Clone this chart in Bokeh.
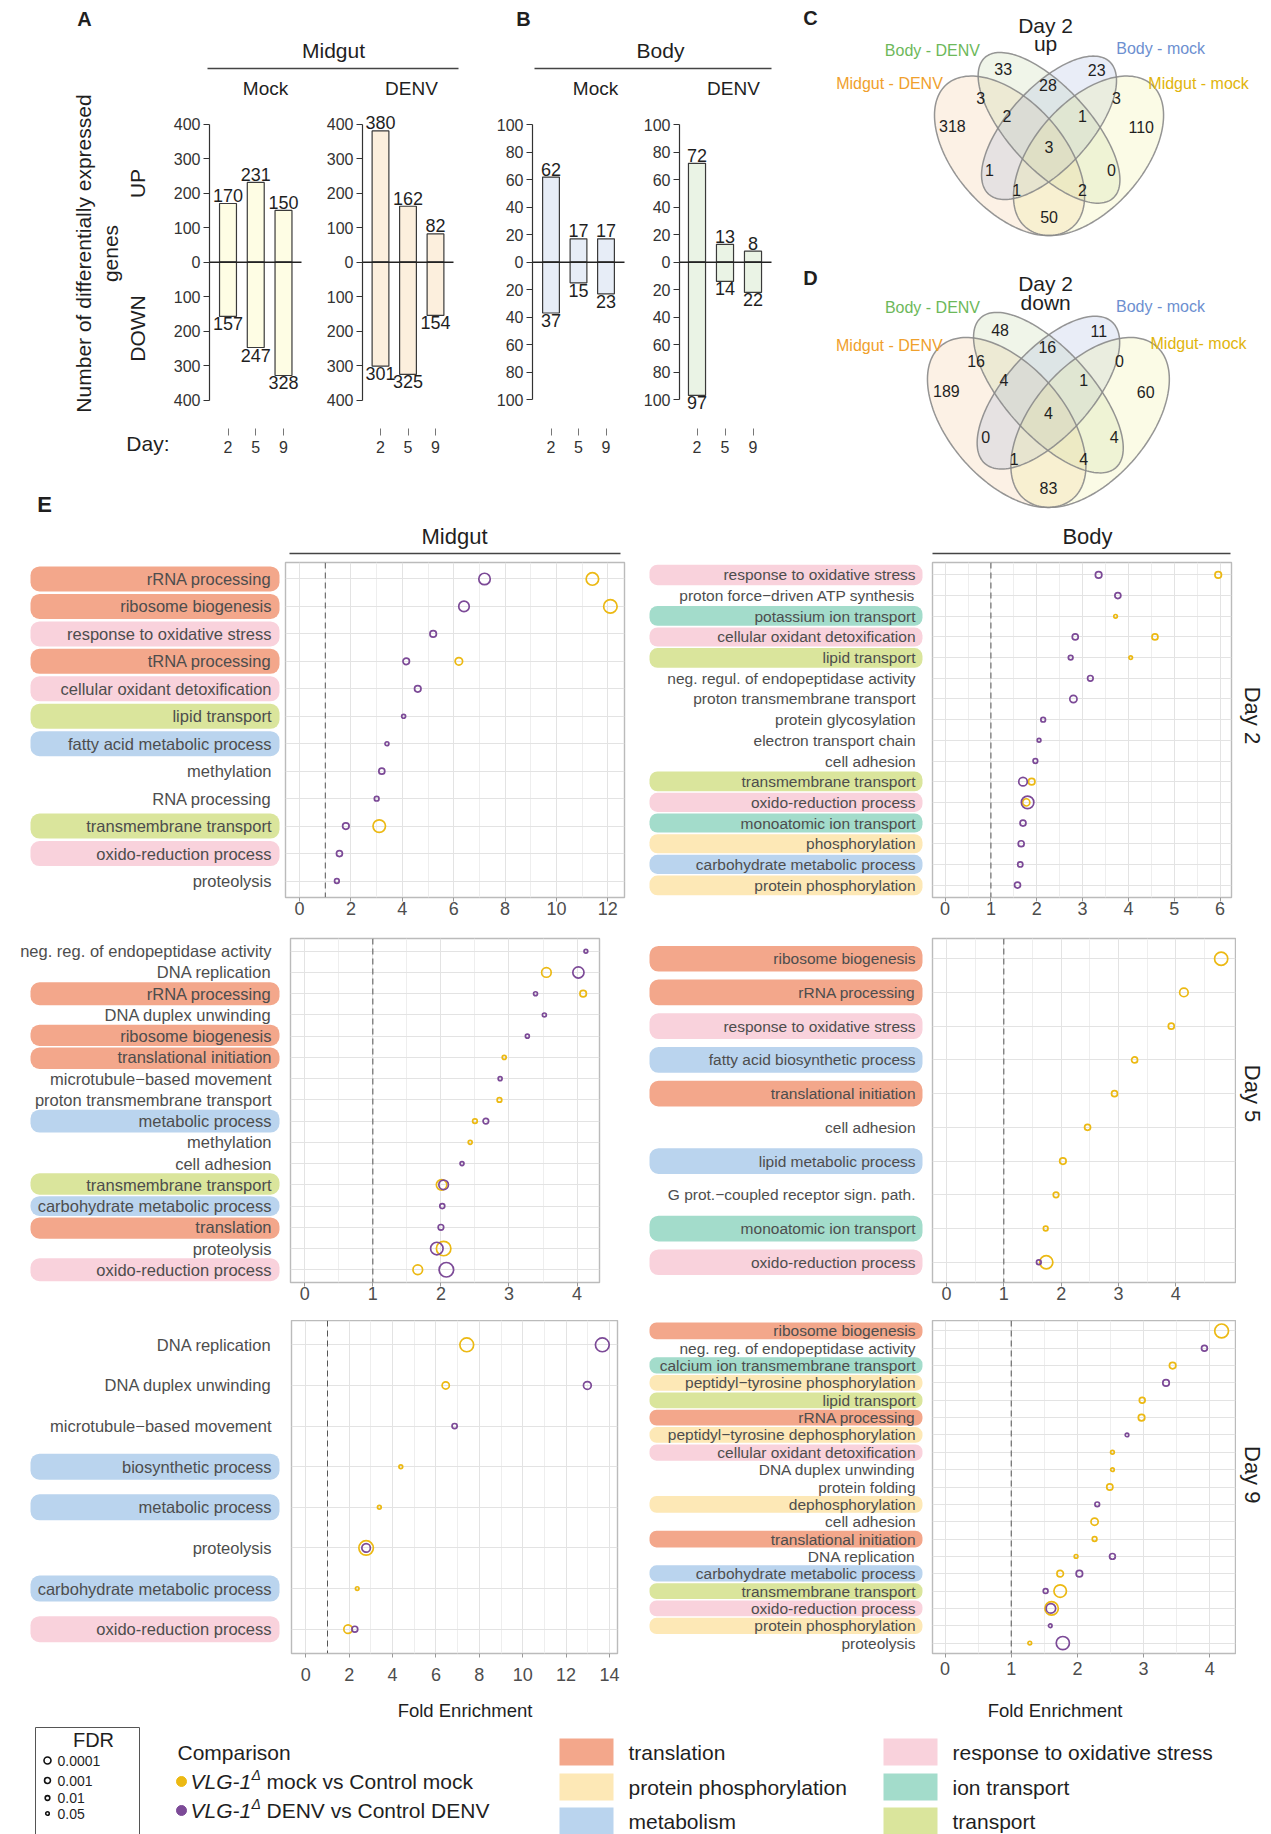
import math

from bokeh.core.properties import value
from bokeh.embed import file_html
from bokeh.layouts import column, row
from bokeh.models import CustomJSTickFormatter, FixedTicker, Grid, Range1d, Span
from bokeh.plotting import figure
from bokeh.resources import INLINE

# ---------------------------------------------------------------- data
# A / B : number of differentially expressed genes per day
DAY_LABELS = ["2", "5", "9"]
MIDGUT_MOCK_UP = [170, 231, 150]
MIDGUT_MOCK_DOWN = [157, 247, 328]
MIDGUT_DENV_UP = [380, 162, 82]
MIDGUT_DENV_DOWN = [301, 325, 154]
BODY_MOCK_UP = [62, 17, 17]
BODY_MOCK_DOWN = [37, 15, 23]
BODY_DENV_UP = [72, 13, 8]
BODY_DENV_DOWN = [97, 14, 22]
MIDGUT_TICKS = [-400, -300, -200, -100, 0, 100, 200, 300, 400]
BODY_TICKS = [-100, -80, -60, -40, -20, 0, 20, 40, 60, 80, 100]

# C / D : overlaps of day-2 gene sets (15 Venn regions, same order for both)
VENN_SETS_UP = ["Midgut - DENV", "Body - DENV", "Body - mock", "Midgut - mock"]
VENN_SETS_DOWN = ["Midgut - DENV", "Body - DENV", "Body - mock", "Midgut- mock"]
VENN_UP_COUNTS = [33, 28, 23, 3, 2, 1, 3, 318, 110, 3, 1, 0, 1, 2, 50]
VENN_DOWN_COUNTS = [48, 16, 11, 16, 4, 1, 0, 189, 60, 4, 0, 4, 1, 4, 83]

# E : GO term enrichment (None = term not enriched in that comparison)
TL, PP, MB = "translation", "protein phosphorylation", "metabolism"
OX, IT, TR = "response to oxidative stress", "ion transport", "transport"
GROUP_ORDER = [TL, PP, MB, OX, IT, TR]

MIDGUT_D2_TERMS = ["rRNA processing", "ribosome biogenesis", "response to oxidative stress",
                   "tRNA processing", "cellular oxidant detoxification", "lipid transport",
                   "fatty acid metabolic process", "methylation", "RNA processing",
                   "transmembrane transport", "oxido-reduction process", "proteolysis"]
MIDGUT_D2_GROUPS = [TL, TL, OX, TL, OX, TR, MB, None, None, TR, OX, None]
MIDGUT_D2_MOCK_FE = [11.4, 12.1, None, 6.2, None, None, None, None, None, 3.1, None, None]
MIDGUT_D2_MOCK_FDR = [4e-12, 7e-14, None, 3e-5, None, None, None, None, None, 4e-12, None, None]
MIDGUT_D2_DENV_FE = [7.2, 6.4, 5.2, 4.15, 4.6, 4.05, 3.4, 3.2, 3.0, 1.8, 1.55, 1.45]
MIDGUT_D2_DENV_FDR = [2e-10, 5e-9, 3e-4, 3e-4, 3e-4, 0.03, 0.03, 9e-4, 0.01, 3e-4, 9e-4, 0.01]

BODY_D2_TERMS = ["response to oxidative stress", "proton force\u2212driven ATP synthesis",
                 "potassium ion transport", "cellular oxidant detoxification", "lipid transport",
                 "neg. regul. of endopeptidase activity", "proton transmembrane transport",
                 "protein glycosylation", "electron transport chain", "cell adhesion",
                 "transmembrane transport", "oxido-reduction process", "monoatomic ion transport",
                 "phosphorylation", "carbohydrate metabolic process", "protein phosphorylation"]
BODY_D2_GROUPS = [OX, None, IT, OX, TR, None, None, None, None, None, TR, OX, IT, PP, MB, PP]
BODY_D2_MOCK_FE = [5.96, None, 3.72, 4.58, 4.05, None, None, None, None, None, 1.89, 1.77,
                   None, None, None, None]
BODY_D2_MOCK_FDR = [3e-4, None, 0.05, 9e-4, 0.05, None, None, None, None, None, 3e-4, 6e-5,
                    None, None, None, None]
BODY_D2_DENV_FE = [3.35, 3.77, None, 2.84, 2.74, 3.17, 2.80, 2.14, 2.05, 1.97, 1.70, 1.80,
                   1.70, 1.66, 1.64, 1.58]
BODY_D2_DENV_FDR = [3e-4, 9e-4, None, 9e-4, 0.01, 2e-3, 6e-5, 0.01, 0.04, 0.01, 2e-6, 4e-12,
                    9e-4, 9e-4, 4e-3, 9e-4]

MIDGUT_D5_TERMS = ["neg. reg. of endopeptidase activity", "DNA replication", "rRNA processing",
                   "DNA duplex unwinding", "ribosome biogenesis", "translational initiation",
                   "microtubule\u2212based movement", "proton transmembrane transport",
                   "metabolic process", "methylation", "cell adhesion", "transmembrane transport",
                   "carbohydrate metabolic process", "translation", "proteolysis",
                   "oxido-reduction process"]
MIDGUT_D5_GROUPS = [None, None, TL, None, TL, TL, None, None, MB, None, None, TR, MB, TL, None, OX]
MIDGUT_D5_MOCK_FE = [None, 3.55, 4.09, None, None, 2.93, None, 2.86, 2.50, 2.43, None, 2.01,
                     None, None, 2.04, 1.66]
MIDGUT_D5_MOCK_FDR = [None, 1e-7, 3e-4, None, None, 0.03, None, 0.01, 0.01, 0.03, None, 5e-9,
                      None, None, 1e-15, 1e-7]
MIDGUT_D5_DENV_FE = [4.13, 4.02, 3.39, 3.52, 3.27, None, 2.87, None, 2.66, None, 2.31, 2.04,
                     2.02, 2.00, 1.94, 2.08]
MIDGUT_D5_DENV_FDR = [0.04, 5e-10, 0.03, 0.03, 0.03, None, 0.03, None, 2e-3, None, 0.03, 1e-7,
                      6e-3, 2e-3, 4e-12, 1e-15]

BODY_D5_TERMS = ["ribosome biogenesis", "rRNA processing", "response to oxidative stress",
                 "fatty acid biosynthetic process", "translational initiation", "cell adhesion",
                 "lipid metabolic process", "G prot.\u2212coupled receptor sign. path.",
                 "monoatomic ion transport", "oxido-reduction process"]
BODY_D5_GROUPS = [TL, TL, OX, MB, TL, None, MB, None, IT, OX]
BODY_D5_MOCK_FE = [4.79, 4.14, 3.92, 3.28, 2.93, 2.46, 2.03, 1.91, 1.73, 1.74]
BODY_D5_MOCK_FDR = [2.5e-13, 2e-6, 9e-4, 9e-4, 9e-4, 9e-4, 3e-4, 2e-3, 0.01, 2.5e-13]
BODY_D5_DENV_FE = [None, None, None, None, None, None, None, None, None, 1.61]
BODY_D5_DENV_FDR = [None, None, None, None, None, None, None, None, None, 0.01]

MIDGUT_D9_TERMS = ["DNA replication", "DNA duplex unwinding", "microtubule\u2212based movement",
                   "biosynthetic process", "metabolic process", "proteolysis",
                   "carbohydrate metabolic process", "oxido-reduction process"]
MIDGUT_D9_GROUPS = [None, None, None, MB, MB, None, MB, OX]
MIDGUT_D9_MOCK_FE = [7.42, 6.45, None, 4.38, 3.39, 2.78, 2.37, 1.95]
MIDGUT_D9_MOCK_FDR = [2e-14, 6e-5, None, 0.04, 0.04, 1e-15, 0.05, 2e-6]
MIDGUT_D9_DENV_FE = [13.67, 12.98, 6.86, None, None, 2.78, None, 2.26]
MIDGUT_D9_DENV_FDR = [2e-14, 1.4e-5, 4e-3, None, None, 2e-6, None, 1.3e-3]

BODY_D9_TERMS = ["ribosome biogenesis", "neg. reg. of endopeptidase activity",
                 "calcium ion transmembrane transport", "peptidyl\u2212tyrosine phosphorylation",
                 "lipid transport", "rRNA processing", "peptidyl\u2212tyrosine dephosphorylation",
                 "cellular oxidant detoxification", "DNA duplex unwinding", "protein folding",
                 "dephosphorylation", "cell adhesion", "translational initiation",
                 "DNA replication", "carbohydrate metabolic process", "transmembrane transport",
                 "oxido-reduction process", "protein phosphorylation", "proteolysis"]
BODY_D9_GROUPS = [TL, None, IT, PP, TR, TL, PP, OX, None, None, PP, None, TL, None, MB, TR, OX,
                  PP, None]
BODY_D9_MOCK_FE = [4.18, None, 3.44, None, 2.98, 2.97, None, 2.53, 2.53, 2.49, None, 2.26, 2.26,
                   1.98, 1.74, 1.74, 1.61, None, 1.28]
BODY_D9_MOCK_FDR = [2e-14, None, 3e-4, None, 1.3e-3, 3e-4, None, 0.04, 0.05, 6e-4, None, 6e-5,
                    0.01, 0.04, 3e-4, 4e-12, 7e-14, None, 0.04]
BODY_D9_DENV_FE = [None, 3.92, None, 3.34, None, None, 2.75, None, None, None, 2.30, None, None,
                   2.53, 2.03, 1.52, 1.60, 1.59, 1.78]
BODY_D9_DENV_FDR = [None, 1.3e-3, None, 3e-4, None, None, 0.05, None, None, None, 0.01, None,
                    None, 1.3e-3, 3e-4, 8e-3, 1.3e-7, 0.05, 2.5e-13]

FDR_LEVELS = [0.0001, 0.001, 0.01, 0.05]
COMPARISONS = ["mock vs Control mock", "DENV vs Control DENV"]

# ---------------------------------------------------------------- styles
SANS = "Liberation Sans"
INK = "#1f1f1f"
AXIS_GREY = "#4d4d4d"
YELLOW = "#ECB913"
PURPLE = "#7C4A97"
GROUP_FILL = {TL: "#F3A78B", PP: "#FDE8B6", MB: "#BAD4EE", OX: "#F9D2DC", IT: "#A3DCCB",
              TR: "#DAE59C"}
VENN_FILL = ["#F3BF89", "#BBD39B", "#9BAFDB", "#EFEF8F"]
VENN_TEXT = ["#F0A02C", "#6DB85A", "#6D8FD0", "#E1B40C"]
# Venn outline geometry (centre x, centre y, semi-axes, rotation) and region label spots
VENN_SHAPES = [(0.35, 0.47, 0.35, 0.20, 135), (0.50, 0.57, 0.35, 0.15, 135),
               (0.50, 0.57, 0.33, 0.15, 45), (0.65, 0.47, 0.35, 0.20, 45)]
VENN_SPOTS = [(0.326, 0.78), (0.496, 0.723), (0.681, 0.778), (0.24, 0.675), (0.34, 0.614),
              (0.627, 0.614), (0.756, 0.676), (0.133, 0.576), (0.85, 0.572), (0.5, 0.502),
              (0.274, 0.42), (0.737, 0.42), (0.377, 0.346), (0.627, 0.346), (0.5, 0.251)]

# vertical bands of the page
TOP_H = 518                      # panels A-D
E_HEAD = 555                     # E column headings end here
ROW2_TOP, ROW2_H = E_HEAD, 379
ROW5_TOP, ROW5_H = ROW2_TOP + ROW2_H, 386
ROW9_TOP, ROW9_H = ROW5_TOP + ROW5_H, 380
FOLD_TOP = ROW9_TOP + ROW9_H     # x-axis titles of the bottom row
LEG_TOP = 1726
PAGE_H = 1834


def canvas(w, h, xr, yr, left=0, right=0, top=0, bottom=0, x_axis=None, y_axis=None):
    p = figure(width=w, height=h, x_range=xr, y_range=yr, output_backend="svg",
               toolbar_location=None, tools="", x_axis_location=x_axis,
               y_axis_location=y_axis, min_border=0, min_border_left=left,
               min_border_right=right, min_border_top=top, min_border_bottom=bottom,
               outline_line_color=None, background_fill_color="white",
               border_fill_color="white")
    p.grid.visible = False
    return p


def put_text(p, x, y, s, size, color=INK, align="center", baseline="middle", angle=0.0,
             style="normal"):
    p.text(x=[x], y=[y], text=[s], text_font=value(SANS), text_font_size=f"{size}px",
           text_color=color, text_align=align, text_baseline=baseline, angle=angle,
           text_font_style=style)


def fdr_size(fdr):
    return 4.0 * math.sqrt(-math.log10(fdr)) - 1.0


# ---------------------------------------------------------------- A / B bars
BAR_TOP, BAR_FRAME_BOTTOM, ZERO_PX = 75, 428, 261.7


def bar_tile(tile_x, frame_x, first_px, pitch, zero_end_px, px_per_gene, ticks, ups, downs,
             fill, heading, heading_px):
    x0, x1 = tile_x
    fx0, fx1 = frame_x

    def slot(px):
        return 1 + (px - first_px) / pitch

    p = canvas(x1 - x0, TOP_H - BAR_TOP, Range1d(slot(fx0), slot(fx1)),
               Range1d((ZERO_PX - BAR_FRAME_BOTTOM) / px_per_gene,
                       (ZERO_PX - BAR_TOP) / px_per_gene),
               left=fx0 - x0, right=x1 - fx1, top=0, bottom=TOP_H - BAR_FRAME_BOTTOM,
               x_axis="below", y_axis="left")
    pos = list(range(1, len(ups) + 1))
    down_vals = [-d for d in downs]
    p.vbar(x=pos, bottom=0, top=ups, width=0.61, fill_color=fill, line_color="#3a3a3a",
           line_width=1.2)
    p.vbar(x=pos, bottom=down_vals, top=0, width=0.61, fill_color=fill, line_color="#3a3a3a",
           line_width=1.2)
    p.segment(x0=[slot(fx0)], y0=[0], x1=[slot(zero_end_px)], y1=[0], line_color="#222222",
              line_width=1.4)
    p.text(x=pos, y=ups, text=[str(v) for v in ups], text_font=value(SANS),
           text_font_size="18px", text_color=INK, text_align="center",
           text_baseline="alphabetic", y_offset=-8)
    p.text(x=pos, y=down_vals, text=[str(v) for v in downs], text_font=value(SANS),
           text_font_size="18px", text_color=INK, text_align="center", text_baseline="top",
           y_offset=1)
    put_text(p, slot(heading_px), (ZERO_PX - 88) / px_per_gene, heading, 19)

    ya = p.yaxis[0]
    ya.ticker = FixedTicker(ticks=ticks)
    ya.bounds = (ticks[0], ticks[-1])
    ya.formatter = CustomJSTickFormatter(code="return String(Math.abs(tick));")
    ya.axis_line_color = "#333333"
    ya.axis_line_width = 1.2
    ya.major_tick_line_color = "#333333"
    ya.major_tick_out = 6
    ya.major_tick_in = 0
    ya.minor_tick_line_color = None
    ya.major_label_text_font = SANS
    ya.major_label_text_font_size = "16px"
    ya.major_label_text_color = "#333333"
    ya.major_label_standoff = 3

    xa = p.xaxis[0]
    xa.ticker = FixedTicker(ticks=pos)
    xa.formatter = CustomJSTickFormatter(args=dict(days=DAY_LABELS),
                                         code="return days[Math.round(tick) - 1];")
    xa.axis_line_color = None
    xa.major_tick_line_color = "#777777"
    xa.major_tick_out = 7
    xa.major_tick_in = 0
    xa.minor_tick_line_color = None
    xa.major_label_text_font = SANS
    xa.major_label_text_font_size = "16px"
    xa.major_label_text_color = "#333333"
    xa.major_label_standoff = 5
    return p


a_left = canvas(170, TOP_H, Range1d(0, 170), Range1d(TOP_H, 0))
put_text(a_left, 84, 18, "A", 20, style="bold")
put_text(a_left, 83, 253, "Number of differentially expressed", 21, angle=math.pi / 2)
put_text(a_left, 110, 253, "genes", 21, angle=math.pi / 2)
put_text(a_left, 137, 183, "UP", 21, angle=math.pi / 2)
put_text(a_left, 137, 328, "DOWN", 21, angle=math.pi / 2)
put_text(a_left, 169, 443, "Day:", 21, align="right")
put_text(a_left, 44, 504, "E", 22, style="bold")

header = canvas(620, BAR_TOP, Range1d(170, 790), Range1d(BAR_TOP, 0))
put_text(header, 333, 50, "Midgut", 21)
header.segment(x0=[207], y0=[68], x1=[458], y1=[68], line_color="#444444", line_width=1.4)
put_text(header, 523, 18, "B", 20, style="bold")
put_text(header, 660, 50, "Body", 21)
header.segment(x0=[534], y0=[68], x1=[771], y1=[68], line_color="#444444", line_width=1.4)

MIDGUT_K = 0.3454
BODY_K = 1.3735
bars = row(
    bar_tile((170, 318), (209, 312), 227.5, 27.75, 301, MIDGUT_K, MIDGUT_TICKS,
             MIDGUT_MOCK_UP, MIDGUT_MOCK_DOWN, "#FEFDE4", "Mock", 265),
    bar_tile((318, 490), (362, 485), 380, 27.5, 453, MIDGUT_K, MIDGUT_TICKS,
             MIDGUT_DENV_UP, MIDGUT_DENV_DOWN, "#FCEFDD", "DENV", 411),
    bar_tile((490, 638), (532, 633), 550.5, 27.5, 624, BODY_K, BODY_TICKS,
             BODY_MOCK_UP, BODY_MOCK_DOWN, "#E7EDF7", "Mock", 595),
    bar_tile((638, 790), (679, 785), 696.5, 28, 771, BODY_K, BODY_TICKS,
             BODY_DENV_UP, BODY_DENV_DOWN, "#EAF3E5", "DENV", 733),
)


# ---------------------------------------------------------------- C / D Venn
def ellipse_outline(cx, cy, a, b, rot_deg, n=160):
    th = math.radians(rot_deg)
    xs, ys = [], []
    for i in range(n):
        t = 2 * math.pi * i / n
        xs.append(cx + a * math.cos(t) * math.cos(th) - b * math.sin(t) * math.sin(th))
        ys.append(cy + a * math.cos(t) * math.sin(th) + b * math.sin(t) * math.cos(th))
    return xs, ys


def venn_tile(h, xr, yr, counts, set_names, set_spots, letter, letter_spot, title, sub,
              title_x, title_y, sub_y):
    p = canvas(481, h, Range1d(*xr), Range1d(*yr))
    for shape, fill in zip(VENN_SHAPES, VENN_FILL):
        xs, ys = ellipse_outline(*shape)
        p.patch(xs, ys, fill_color=fill, fill_alpha=0.22, line_color=None)
    for shape in VENN_SHAPES:
        xs, ys = ellipse_outline(*shape)
        p.line(xs + xs[:1], ys + ys[:1], line_color="#8a8a8a", line_width=1.5,
               line_alpha=0.9)
    p.text(x=[s[0] for s in VENN_SPOTS], y=[s[1] for s in VENN_SPOTS],
           text=[str(c) for c in counts], text_font=value(SANS), text_font_size="16px",
           text_color=INK, text_align="center", text_baseline="middle")
    for name, spot, col in zip(set_names, set_spots, VENN_TEXT):
        put_text(p, spot[0], spot[1], name, 16, color=col)
    put_text(p, letter_spot[0], letter_spot[1], letter, 20, style="bold")
    put_text(p, title_x, title_y, title, 21)
    put_text(p, title_x, sub_y, sub, 21)
    return p


venn_c = venn_tile(255, (-0.482, 1.345), (0.1137, 1.025), VENN_UP_COUNTS, VENN_SETS_UP,
                   [(-0.106, 0.728), (0.057, 0.846), (0.924, 0.853), (1.068, 0.728)],
                   "C", (-0.406, 0.964), "Day 2", "up", 0.487, 0.935, 0.871)
venn_d = venn_tile(TOP_H - 255, (-0.4277, 1.3025), (0.1477, 1.0302), VENN_DOWN_COUNTS,
                   VENN_SETS_DOWN,
                   [(-0.072, 0.728), (0.083, 0.856), (0.903, 0.859), (1.04, 0.735)],
                   "D", (-0.356, 0.956), "Day 2", "down", 0.49, 0.936, 0.872)

top_band = row(a_left, column(header, bars), column(venn_c, venn_d))

# ---------------------------------------------------------------- E enrichment
MIDGUT_SIDE = dict(labels=(0, 284), plot=(284, 630), box=(30, 279), text_right=271, font=16.5)
BODY_SIDE = dict(labels=(630, 931), plot=(931, 1236), box=(649, 922), text_right=915, font=15.5)


def enrichment_panel(terms, groups, mock_fe, mock_fdr, denv_fe, denv_fdr, side, frame_x, row_h,
                     top, bottom, x_range, major, minor, box_h, standoff):
    n = len(terms)
    yr = Range1d(0.4, n + 0.6)
    ys = [n - i for i in range(n)]
    frame_h = row_h - top - bottom
    pitch = frame_h / (n + 0.2)

    lx0, lx1 = side["labels"]
    lab = canvas(lx1 - lx0, row_h, Range1d(lx0, lx1), yr, top=top, bottom=bottom)
    boxed = [g is not None for g in groups]
    near = min(box_h / 2, pitch / 2 - 0.8)
    far = box_h / 2
    lefts, rights, tops, bottoms, fills = [], [], [], [], []
    for i, g in enumerate(groups):
        if g is None:
            continue
        up_px = near if (i > 0 and boxed[i - 1]) else far
        dn_px = near if (i < n - 1 and boxed[i + 1]) else far
        lefts.append(side["box"][0])
        rights.append(side["box"][1])
        tops.append(ys[i] + up_px / pitch)
        bottoms.append(ys[i] - dn_px / pitch)
        fills.append(GROUP_FILL[g])
    if fills:
        radius = int(round(min(9, box_h * 0.4)))
        try:
            lab.quad(left=lefts, right=rights, top=tops, bottom=bottoms, fill_color=fills,
                     line_color=None, border_radius=radius)
        except (AttributeError, ValueError):
            lab.quad(left=lefts, right=rights, top=tops, bottom=bottoms, fill_color=fills,
                     line_color=None)
    lab.text(x=[side["text_right"]] * n, y=ys, text=terms, text_font=value(SANS),
             text_font_size=f"{side['font']}px", text_color=AXIS_GREY, text_align="right",
             text_baseline="middle")

    px0, px1 = side["plot"]
    p = canvas(px1 - px0, row_h, Range1d(*x_range), yr, left=frame_x[0] - px0,
               right=px1 - frame_x[1], top=top, bottom=bottom, x_axis="below")
    p.outline_line_color = "#BBBBBB"
    p.outline_line_width = 1.4
    ticker = FixedTicker(ticks=major, minor_ticks=minor)
    xa = p.xaxis[0]
    xa.ticker = ticker
    xa.axis_line_color = None
    xa.major_tick_line_color = "#9a9a9a"
    xa.major_tick_out = 4
    xa.major_tick_in = 0
    xa.minor_tick_line_color = None
    xa.major_label_text_font = SANS
    xa.major_label_text_font_size = "18px"
    xa.major_label_text_color = AXIS_GREY
    xa.major_label_standoff = standoff
    p.xgrid.visible = True
    p.xgrid.ticker = ticker
    p.xgrid.grid_line_color = "#E3E3E3"
    p.xgrid.minor_grid_line_color = "#EEEEEE"
    p.add_layout(Grid(dimension=1, ticker=FixedTicker(ticks=list(range(1, n + 1))),
                      grid_line_color="#E3E3E3"))
    p.add_layout(Span(location=1, dimension="height", line_color="#555555", line_dash="6 4",
                      line_width=1))
    for fe, fdr, col in ((mock_fe, mock_fdr, YELLOW), (denv_fe, denv_fdr, PURPLE)):
        xs = [v for v in fe if v is not None]
        yy = [y for v, y in zip(fe, ys) if v is not None]
        ss = [fdr_size(f) for v, f in zip(fe, fdr) if v is not None]
        p.scatter(x=xs, y=yy, size=ss, marker="circle", fill_color=None, line_color=col,
                  line_width=1.7)
    return lab, p


def strip_tile(text, row_top, row_h, y_center):
    s = canvas(35, row_h, Range1d(1236, 1271), Range1d(row_top + row_h, row_top))
    put_text(s, 1252, y_center, text, 22, angle=-math.pi / 2)
    return s


e_header = canvas(1271, E_HEAD - TOP_H, Range1d(0, 1271), Range1d(E_HEAD, TOP_H))
put_text(e_header, 454, 536, "Midgut", 22)
e_header.segment(x0=[289], y0=[553], x1=[620], y1=[553], line_color="#444444", line_width=1.6)
put_text(e_header, 1087, 536, "Body", 22)
e_header.segment(x0=[932], y0=[553], x1=[1230], y1=[553], line_color="#444444", line_width=1.6)

ODD = [1, 3, 5, 7, 9, 11, 13]
HALVES = [0.5, 1.5, 2.5, 3.5, 4.5, 5.5]

m2l, m2p = enrichment_panel(MIDGUT_D2_TERMS, MIDGUT_D2_GROUPS, MIDGUT_D2_MOCK_FE,
                            MIDGUT_D2_MOCK_FDR, MIDGUT_D2_DENV_FE, MIDGUT_D2_DENV_FDR,
                            MIDGUT_SIDE, (285, 624), ROW2_H, 7, 37, (-0.55, 12.65),
                            [0, 2, 4, 6, 8, 10, 12], ODD, 25, 0)
b2l, b2p = enrichment_panel(BODY_D2_TERMS, BODY_D2_GROUPS, BODY_D2_MOCK_FE, BODY_D2_MOCK_FDR,
                            BODY_D2_DENV_FE, BODY_D2_DENV_FDR, BODY_SIDE, (932, 1231), ROW2_H, 7,
                            37, (-0.275, 6.25), [0, 1, 2, 3, 4, 5, 6], HALVES, 20.5, 0)
day2 = row(m2l, m2p, b2l, b2p, strip_tile("Day 2", ROW2_TOP, ROW2_H, 728))

m5l, m5p = enrichment_panel(MIDGUT_D5_TERMS, MIDGUT_D5_GROUPS, MIDGUT_D5_MOCK_FE,
                            MIDGUT_D5_MOCK_FDR, MIDGUT_D5_DENV_FE, MIDGUT_D5_DENV_FDR,
                            MIDGUT_SIDE, (290, 599), ROW5_H, 4, 37, (-0.21, 4.33),
                            [0, 1, 2, 3, 4], HALVES, 23, 0)
b5l, b5p = enrichment_panel(BODY_D5_TERMS, BODY_D5_GROUPS, BODY_D5_MOCK_FE, BODY_D5_MOCK_FDR,
                            BODY_D5_DENV_FE, BODY_D5_DENV_FDR, BODY_SIDE, (932, 1235), ROW5_H, 0,
                            38, (-0.244, 5.04), [0, 1, 2, 3, 4], HALVES, 26, 0)
day5 = row(m5l, m5p, b5l, b5p, strip_tile("Day 5", ROW5_TOP, ROW5_H, 1108))

m9l, m9p = enrichment_panel(MIDGUT_D9_TERMS, MIDGUT_D9_GROUPS, MIDGUT_D9_MOCK_FE,
                            MIDGUT_D9_MOCK_FDR, MIDGUT_D9_DENV_FE, MIDGUT_D9_DENV_FDR,
                            MIDGUT_SIDE, (291, 617), ROW9_H, 0, 47, (-0.66, 14.37),
                            [0, 2, 4, 6, 8, 10, 12, 14], ODD, 26, 10)
b9l, b9p = enrichment_panel(BODY_D9_TERMS, BODY_D9_GROUPS, BODY_D9_MOCK_FE, BODY_D9_MOCK_FDR,
                            BODY_D9_DENV_FE, BODY_D9_DENV_FDR, BODY_SIDE, (932, 1235), ROW9_H, 0,
                            41, (-0.19, 4.39), [0, 1, 2, 3, 4], HALVES, 17, 4)
day9 = row(m9l, m9p, b9l, b9p, strip_tile("Day 9", ROW9_TOP, ROW9_H, 1496))

fold = canvas(1271, LEG_TOP - FOLD_TOP, Range1d(0, 1271), Range1d(LEG_TOP, FOLD_TOP))
put_text(fold, 464.5, 1710, "Fold Enrichment", 18.5)
put_text(fold, 1054.5, 1710, "Fold Enrichment", 18.5)

# ---------------------------------------------------------------- legends
leg = canvas(1271, PAGE_H - LEG_TOP, Range1d(0, 1271), Range1d(PAGE_H, LEG_TOP))
leg.line(x=[35, 35, 139, 139], y=[PAGE_H, LEG_TOP + 1, LEG_TOP + 1, PAGE_H],
         line_color="#555555", line_width=1)
put_text(leg, 93, 1739, "FDR", 20)
fdr_y = [1760, 1780, 1797.5, 1813]
leg.scatter(x=[47] * len(FDR_LEVELS), y=fdr_y, size=[fdr_size(f) for f in FDR_LEVELS],
            marker="circle", fill_color=None, line_color="#111111", line_width=1.6)
leg.text(x=[57] * len(FDR_LEVELS), y=fdr_y, text=[f"{f:g}" for f in FDR_LEVELS],
         text_font=value(SANS), text_font_size="14px", text_color=INK, text_align="left",
         text_baseline="middle")

put_text(leg, 177, 1752, "Comparison", 21, align="left")
for y, col, txt in zip([1781, 1810], [YELLOW, PURPLE], COMPARISONS):
    leg.scatter(x=[181], y=[y], size=10, marker="circle", fill_color=col, line_color=col)
    put_text(leg, 190, y, "VLG-1", 21, align="left", style="italic")
    put_text(leg, 251, y - 7, "\u0394", 14, align="left", style="italic")
    put_text(leg, 266, y, txt, 21, align="left")

sw_y = [1751.5, 1786.5, 1820.5]
for col_x, names in ((559, GROUP_ORDER[:3]), (883, GROUP_ORDER[3:])):
    leg.quad(left=[col_x] * 3, right=[col_x + 54] * 3, top=[y - 13.5 for y in sw_y],
             bottom=[y + 13.5 for y in sw_y], fill_color=[GROUP_FILL[g] for g in names],
             line_color=None)
    leg.text(x=[col_x + 69] * 3, y=sw_y, text=names, text_font=value(SANS),
             text_font_size="21px", text_color=INK, text_align="left",
             text_baseline="middle")

page = column(top_band, e_header, day2, day5, day9, fold, leg)

open("out.html", "w").write(file_html(page, INLINE))
